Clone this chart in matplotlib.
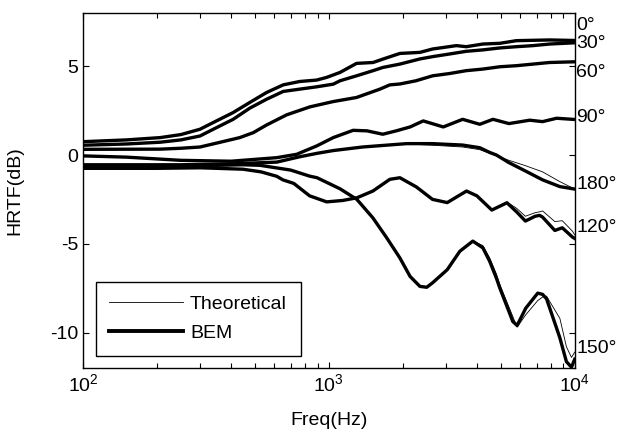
import matplotlib
matplotlib.use('Agg')
import matplotlib.pyplot as plt
import matplotlib.transforms as mtransforms

plt.rcParams['font.family'] = ['Liberation Sans', 'DejaVu Sans']
plt.rcParams['axes.unicode_minus'] = False

# HRTF of a rigid sphere, BEM vs theoretical
f0 = [100, 150, 206, 250, 299, 349, 408, 477, 558, 652, 761, 892, 979, 1110, 1296, 1513, 1657, 1945, 2346, 2642, 3300, 3620, 4230, 4960, 5790, 7900, 10000]
bem0 = [0.75, 0.85, 0.98, 1.15, 1.45, 1.92, 2.39, 2.96, 3.52, 3.95, 4.14, 4.22, 4.37, 4.65, 5.16, 5.21, 5.4, 5.72, 5.78, 5.97, 6.16, 6.1, 6.25, 6.29, 6.44, 6.48, 6.45]

f30 = [100, 150, 206, 250, 299, 349, 408, 477, 558, 652, 761, 892, 1042, 1110, 1296, 1513, 1657, 1945, 2346, 2642, 3100, 3620, 4230, 4960, 5790, 6760, 7900, 10000]
bem30 = [0.55, 0.62, 0.72, 0.85, 1.07, 1.54, 2.01, 2.64, 3.14, 3.58, 3.71, 3.84, 3.99, 4.18, 4.46, 4.75, 4.93, 5.12, 5.41, 5.54, 5.69, 5.84, 5.92, 6.03, 6.1, 6.16, 6.25, 6.32]

f60 = [100, 206, 250, 299, 357, 434, 493, 558, 673, 837, 1042, 1296, 1613, 1770, 1945, 2260, 2642, 3100, 3620, 4230, 4960, 5790, 6760, 7900, 10000]
bem60 = [0.32, 0.33, 0.38, 0.45, 0.7, 0.98, 1.26, 1.69, 2.26, 2.71, 3.01, 3.24, 3.71, 3.95, 4.0, 4.18, 4.46, 4.59, 4.75, 4.84, 4.97, 5.03, 5.12, 5.21, 5.25]

f90 = [100, 150, 250, 400, 614, 740, 892, 1042, 1255, 1430, 1657, 1880, 2140, 2420, 2920, 3500, 4110, 4650, 5400, 6560, 7400, 8440, 10000]
bem90 = [-0.05, -0.12, -0.3, -0.35, -0.15, 0.04, 0.51, 0.98, 1.39, 1.36, 1.17, 1.36, 1.58, 1.92, 1.58, 2.01, 1.73, 2.01, 1.77, 1.96, 1.88, 2.07, 2.0]

f120 = [100, 200, 300, 447, 530, 614, 650, 720, 835, 980, 1140, 1300, 1510, 1770, 1945, 2270, 2640, 3030, 3630, 4000, 4600, 5300, 5800, 6300, 6900, 7200, 7400, 8300, 8900, 9800, 10000]
bem120 = [-0.75, -0.75, -0.72, -0.8, -0.95, -1.2, -1.4, -1.6, -2.3, -2.64, -2.56, -2.41, -2.03, -1.37, -1.28, -1.8, -2.5, -2.68, -2.03, -2.3, -3.1, -2.69, -3.2, -3.72, -3.45, -3.4, -3.5, -4.25, -4.1, -4.63, -4.7]
theo120 = [-0.75, -0.75, -0.72, -0.8, -0.95, -1.2, -1.4, -1.6, -2.3, -2.64, -2.56, -2.41, -2.03, -1.37, -1.28, -1.8, -2.5, -2.68, -2.03, -2.3, -3.1, -2.65, -3.0, -3.45, -3.25, -3.2, -3.15, -3.75, -3.7, -4.3, -4.5]

f150 = [100, 200, 300, 447, 524, 700, 835, 895, 1109, 1300, 1510, 1720, 1945, 2140, 2346, 2500, 2640, 3030, 3410, 3850, 4230, 4510, 4800, 4960, 5600, 5830, 6320, 7070, 7400, 7680, 8440, 8700, 9250, 9700, 10000]
bem150 = [-0.65, -0.65, -0.6, -0.55, -0.58, -0.85, -1.19, -1.28, -1.9, -2.5, -3.54, -4.67, -5.8, -6.84, -7.4, -7.45, -7.2, -6.46, -5.42, -4.85, -5.23, -5.99, -6.93, -7.5, -9.38, -9.6, -8.63, -7.78, -7.85, -8.1, -9.76, -10.3, -11.64, -11.95, -11.5]
theo150 = [-0.65, -0.65, -0.6, -0.55, -0.58, -0.85, -1.19, -1.28, -1.9, -2.5, -3.54, -4.67, -5.8, -6.84, -7.4, -7.45, -7.2, -6.46, -5.42, -4.85, -5.1, -5.8, -6.7, -7.3, -9.1, -9.7, -9.0, -8.2, -8.0, -7.95, -8.9, -9.2, -10.8, -11.4, -11.1]

f180 = [100, 250, 400, 614, 761, 900, 1042, 1370, 2070, 2640, 3500, 4110, 4500, 4800, 5400, 6300, 7400, 8700, 10000]
bem180 = [-0.55, -0.55, -0.5, -0.4, -0.1, 0.1, 0.25, 0.45, 0.64, 0.64, 0.56, 0.41, 0.15, 0.0, -0.43, -0.9, -1.4, -1.78, -1.92]
theo180 = [-0.55, -0.55, -0.5, -0.4, -0.1, 0.1, 0.25, 0.45, 0.62, 0.55, 0.45, 0.3, 0.1, -0.05, -0.3, -0.6, -0.95, -1.5, -1.92]

curves = [
    (f0, bem0, bem0),
    (f30, bem30, bem30),
    (f60, bem60, bem60),
    (f90, bem90, bem90),
    (f120, theo120, bem120),
    (f150, theo150, bem150),
    (f180, theo180, bem180),
]

angle_labels = ['0°', '30°', '60°', '90°', '180°', '120°', '150°']
label_y = [7.3, 6.3, 4.65, 2.1, -1.65, -4.1, -10.9]

fig = plt.figure(figsize=(6.17, 4.32), dpi=100)
ax = fig.add_axes([0.1345, 0.148, 0.797, 0.822])

for f, theo, bem in curves:
    ax.plot(f, theo, color='black', lw=0.6, zorder=3)
    ax.plot(f, bem, color='black', lw=2.4, zorder=2, solid_joinstyle='round')

ax.plot([], [], color='black', lw=0.6, label='Theoretical')
ax.plot([], [], color='black', lw=2.8, label='BEM')

ax.set_xscale('log')
ax.set_xlim(100, 10000)
ax.set_ylim(-12, 8)
ax.set_yticks([-10, -5, 0, 5])
ax.tick_params(which='both', direction='in', top=True, right=True, labelsize=14)
ax.tick_params(which='major', length=4.5, width=0.8)
ax.tick_params(which='minor', length=3.5, width=0.8)
for s in ax.spines.values():
    s.set_linewidth(1.0)

trans = mtransforms.blended_transform_factory(ax.transAxes, ax.transData)
for lab, y in zip(angle_labels, label_y):
    ax.text(1.003, y, lab, transform=trans, ha='left', va='center', fontsize=14, clip_on=False)

ax.set_xlabel('Freq(Hz)', fontsize=14)
ax.set_ylabel('HRTF(dB)', fontsize=14)
ax.xaxis.set_label_coords(0.5, -0.125)
ax.yaxis.set_label_coords(-0.122, 0.5)

leg = ax.legend(loc='lower left', bbox_to_anchor=(0.026, 0.035), borderaxespad=0,
                fontsize=14, handlelength=3.8, handletextpad=0.35, labelspacing=0.6,
                borderpad=0.7, fancybox=False, framealpha=1, edgecolor='black')
leg.get_frame().set_linewidth(1.0)

fig.savefig('out.png', dpi=100)
